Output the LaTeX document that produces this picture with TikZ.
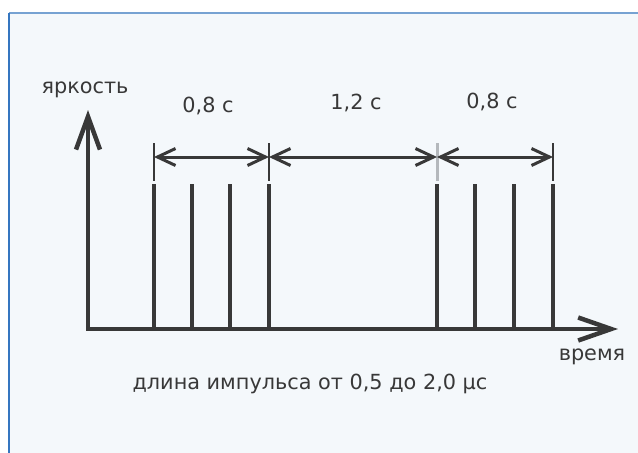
\documentclass[tikz,border=0pt]{standalone}
\usepackage{fontspec}
\setmainfont{DejaVu Sans}
\usetikzlibrary{arrows.meta}
\definecolor{ink}{HTML}{383838}
\definecolor{panel}{HTML}{F4F8FB}
\definecolor{frametop}{HTML}{76A2D2}
\definecolor{frameleft}{HTML}{3576C0}
\definecolor{extgray}{HTML}{B4B8BC}
\tikzset{
  axis/.style={draw=ink, line width=4.5pt, line join=miter,
    {Straight Barb[length=33pt,width=24pt]}-{Straight Barb[length=33pt,width=23pt]}},
  pulse/.style={draw=ink, line width=3.5pt},
  extline/.style={draw=ink, line width=1.2pt},
  dimline/.style={draw=ink, line width=3pt,
    {Straight Barb[length=18pt,width=17pt]}-{Straight Barb[length=18pt,width=17pt]}},
  lbl/.style={text=ink, font=\fontsize{20.8}{24}\selectfont, inner sep=0pt}
}
\begin{document}
\begin{tikzpicture}[x=1pt,y=-1pt]
\useasboundingbox (0,0) rectangle (638,453);
\fill[white] (0,0) rectangle (638,453);
\fill[panel] (9,13) rectangle (638,453);
\draw[frametop, line width=2pt] (9,13) -- (638,13);
\draw[frameleft, line width=1.6pt] (9,13) -- (9,453);
% axes
\coordinate (ytop) at (88,110);
\coordinate (orig) at (88,329);
\coordinate (xend) at (618,329);
\draw[axis] (ytop) -- (orig) -- (xend);
% pulses
\foreach \n/\x in {p1/154,p2/192,p3/230,p4/269,p5/437,p6/475,p7/514,p8/553}{
  \coordinate (\n top) at (\x,184);
  \coordinate (\n bot) at (\x,329);
  \draw[pulse] (\n top) -- (\n bot);
}
% extension lines
\foreach \n/\x in {e1/154,e2/269,e4/553}{
  \coordinate (\n a) at (\x,143);
  \coordinate (\n b) at (\x,181);
  \draw[extline] (\n a) -- (\n b);
}
\coordinate (e3a) at (437,143);
\coordinate (e3b) at (437,181);
\draw[extgray, line width=3pt] (e3a) -- (e3b);
% dimension lines
\coordinate (d1) at (154,157);
\coordinate (d2) at (269,157);
\coordinate (d3) at (437,157);
\coordinate (d4) at (553,157);
\draw[dimline] (d1) -- (d2);
\draw[dimline] (d2) -- (d3);
\draw[dimline] (d3) -- (d4);
% labels
\node[lbl] (l1) at (208,106) {0,8 с};
\node[lbl] (l2) at (356,103) {1,2 с};
\node[lbl] (l3) at (492,102) {0,8 с};
\node[lbl] (ylab) at (85,90) {яркость};
\node[lbl] (xlab) at (592,357) {время};
\node[lbl] (note) at (310,384) {длина импульса от 0,5 до 2,0 μс};
\end{tikzpicture}
\end{document}
